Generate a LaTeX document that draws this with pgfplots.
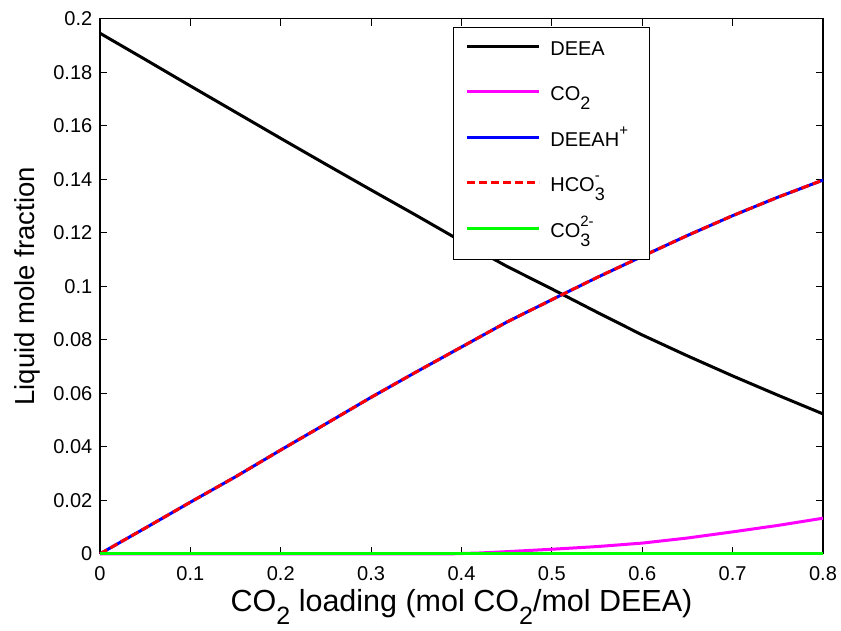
\documentclass[border=0pt]{standalone}
\usepackage{pgfplots}
\pgfplotsset{compat=1.18}
\usepackage{fontspec}
\setmainfont{Liberation Sans}
\definecolor{mgreen}{RGB}{0,255,0}
\definecolor{mmag}{RGB}{255,0,255}
\definecolor{mblue}{RGB}{0,0,255}
\definecolor{mred}{RGB}{255,0,0}
% legend sub/superscripts
\newcommand{\lsub}[1]{\raisebox{-0.45em}{\fontsize{18}{18}\selectfont #1}}
\newcommand{\lsup}[1]{\raisebox{0.55em}{\fontsize{15}{15}\selectfont #1}}
\newcommand{\lsubsup}[2]{\rlap{\lsup{#2}}\lsub{#1}}
% axis label subscript
\newcommand{\xsub}[1]{\raisebox{-0.42em}{\fontsize{25}{25}\selectfont #1}}

\pgfplotstableread{
x y
0    0.1946
0.05 0.1848
0.1  0.1749
0.15 0.1651
0.2  0.1553
0.25 0.1456
0.3  0.1360
0.35 0.1265
0.4  0.1168
0.45 0.1075
0.5  0.0990
0.55 0.0903
0.6  0.0818
0.65 0.0740
0.7  0.0665
0.75 0.0593
0.8  0.0523
}\deea

\pgfplotstableread{
x y
0    0
0.39 0
0.42 0.0003
0.45 0.0008
0.5  0.0017
0.55 0.0027
0.6  0.0040
0.65 0.0059
0.7  0.0082
0.75 0.0106
0.8  0.0133
}\cotwo

\pgfplotstableread{
x y
0    0
0.05 0.0096
0.1  0.0193
0.15 0.0288
0.2  0.0388
0.25 0.0486
0.3  0.0585
0.35 0.0680
0.4  0.0773
0.45 0.0866
0.5  0.0950
0.55 0.1033
0.6  0.1112
0.65 0.1190
0.7  0.1264
0.75 0.1333
0.8  0.1397
}\deeah

\pgfplotstableread{
x y
0   0
0.8 0
}\cothree

\begin{document}
\begin{tikzpicture}
\begin{axis}[
  scale only axis,
  width=723pt, height=535pt,
  xmin=0, xmax=0.8, ymin=0, ymax=0.2,
  clip=false,
  xtick={0,0.1,...,0.8},
  ytick={0,0.02,...,0.2},
  tick pos=both,
  tick align=inside,
  major tick length=7pt,
  tick style={black, line width=0.8pt},
  axis line style={black, line width=1.2pt},
  /pgf/number format/assume math mode=true,
  /pgf/number format/fixed,
  /pgf/number format/precision=2,
  ticklabel style={font=\fontsize{20}{20}\selectfont},
  yticklabel style={inner sep=0pt, anchor=east, xshift=-7.5pt},
  xticklabel style={inner sep=0pt, anchor=north, yshift=-12.5pt},
  xlabel={CO\xsub{2} loading (mol CO\xsub{2}/mol DEEA)},
  ylabel={Liquid mole fraction},
  xlabel style={font=\fontsize{30.5}{30.5}\selectfont, inner sep=0pt, at={(axis description cs:0.5,-0.1075)}, anchor=base},
  ylabel style={font=\fontsize{27.5}{27.5}\selectfont, inner sep=0pt, at={(axis description cs:-0.0899,0.5)}, anchor=base},
  legend image code/.code={\draw[#1] (0pt,6pt) -- (72pt,6pt);},
  legend cell align=left,
  legend style={
    at={(axis cs:0.391,0.1969)}, anchor=north west,
    draw=black, line width=0.8pt, fill=white,
    outer sep=0pt,
    inner xsep=12pt, inner ysep=12pt,
    font=\fontsize{20}{20}\selectfont,
    nodes={inner sep=0pt, text height=16pt, text depth=10pt},
    column sep=10pt, row sep=19.5pt,
  },
]
\addplot[black, line width=3pt, line join=round] table {\deea};
\addlegendentry{\makebox[87pt][l]{DEEA}}
\addplot[mmag, line width=3pt, line join=round] table {\cotwo};
\addlegendentry{CO\lsub{2}}
\addplot[mblue, line width=3pt, line join=round] table {\deeah};
\addlegendentry{DEEAH\lsup{+}}
\addplot[mred, line width=3pt, line join=round, dash pattern=on 8pt off 4pt] table {\deeah};
\addlegendentry{HCO\lsubsup{3}{-}}
\addplot[mgreen, line width=3pt] table {\cothree};
\addlegendentry{CO\lsubsup{3}{2-}}
\end{axis}
\pgfresetboundingbox
\useasboundingbox (-100pt,-77.2pt) rectangle (741pt,553.8pt);
\end{tikzpicture}
\end{document}
